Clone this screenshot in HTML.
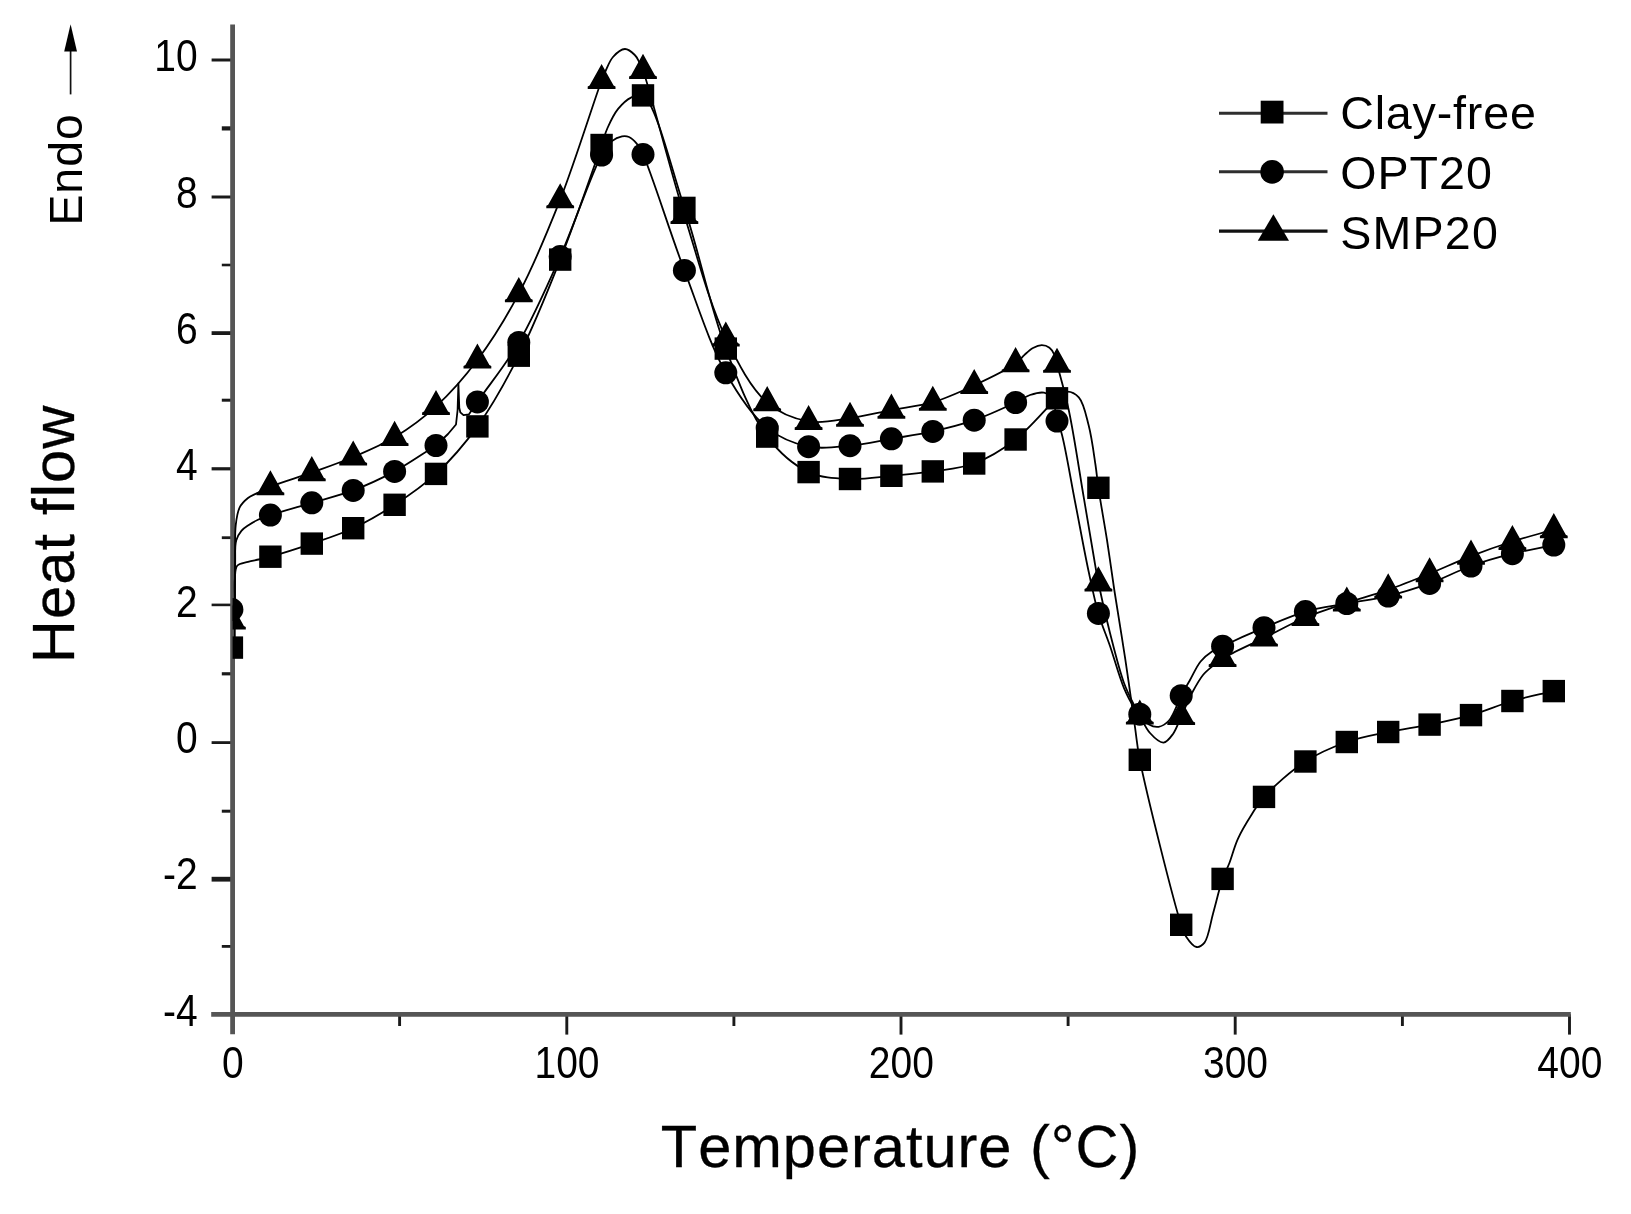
<!DOCTYPE html>
<html lang="en">
<head>
<meta charset="utf-8">
<title>Heat flow vs Temperature</title>
<style>
html,body{margin:0;padding:0;background:#fff;}
body{width:1631px;height:1214px;overflow:hidden;}
svg{display:block;filter:blur(0.6px);}
text{font-family:'Liberation Sans', Arial, Helvetica, sans-serif;fill:#000;font-kerning:none;}
.tick text{font-size:39px;}
.leg text{font-size:46.6px;}
.title{font-size:59.6px;stroke:#000;stroke-width:0.3;}
.curve{fill:none;stroke:#000;stroke-width:1.8;stroke-linejoin:round;stroke-linecap:butt;}
</style>
</head>
<body>
<svg width="1631" height="1214" viewBox="0 0 1631 1214">
<rect x="0" y="0" width="1631" height="1214" fill="#fff"/>
<defs><clipPath id="plot"><rect x="232.6" y="0" width="1400" height="1014.3"/></clipPath></defs>
<g stroke="#1a1a1a" stroke-width="2.9" fill="none">
<line x1="211.6" y1="60.0" x2="232.6" y2="60.0" stroke-width="3.0"/>
<line x1="221.8" y1="128.4" x2="232.6" y2="128.4" stroke-width="4.2"/>
<line x1="211.6" y1="197.0" x2="232.6" y2="197.0" stroke-width="3.0"/>
<line x1="221.8" y1="265.0" x2="232.6" y2="265.0" stroke-width="2.6"/>
<line x1="211.6" y1="333.1" x2="232.6" y2="333.1" stroke-width="3.8"/>
<line x1="221.8" y1="400.2" x2="232.6" y2="400.2" stroke-width="3.0"/>
<line x1="211.6" y1="468.8" x2="232.6" y2="468.8" stroke-width="3.2"/>
<line x1="221.8" y1="537.7" x2="232.6" y2="537.7" stroke-width="2.8"/>
<line x1="211.6" y1="604.9" x2="232.6" y2="604.9" stroke-width="2.6"/>
<line x1="221.8" y1="673.8" x2="232.6" y2="673.8" stroke-width="3.2"/>
<line x1="211.6" y1="742.6" x2="232.6" y2="742.6" stroke-width="2.8"/>
<line x1="221.8" y1="811.2" x2="232.6" y2="811.2" stroke-width="3.0"/>
<line x1="211.6" y1="879.2" x2="232.6" y2="879.2" stroke-width="4.8"/>
<line x1="221.8" y1="946.4" x2="232.6" y2="946.4" stroke-width="2.8"/>
<line x1="566.8" y1="1014.3" x2="566.8" y2="1034.6"/>
<line x1="901.0" y1="1014.3" x2="901.0" y2="1034.6"/>
<line x1="1235.2" y1="1014.3" x2="1235.2" y2="1034.6"/>
<line x1="1569.5" y1="1014.3" x2="1569.5" y2="1034.6"/>
<line x1="399.6" y1="1014.3" x2="399.6" y2="1026"/>
<line x1="733.9" y1="1014.3" x2="733.9" y2="1026"/>
<line x1="1068.1" y1="1014.3" x2="1068.1" y2="1026"/>
<line x1="1402.4" y1="1014.3" x2="1402.4" y2="1026"/>
</g>
<g stroke="#555555" stroke-width="4.8" fill="none" stroke-linecap="butt">
<line x1="232.6" y1="24.6" x2="232.6" y2="1034.2"/>
<line x1="211.2" y1="1014.3" x2="1570.8" y2="1014.3"/>
</g>
<g clip-path="url(#plot)">
<g class="curve">
<path d="M234.8 647.6C234.8 631.7 234.8 612.8 234.8 600.0C234.8 591.4 234.3 584.7 234.9 578.5C235.3 573.7 234.9 568.6 237.2 565.8C239.4 563.2 244.4 562.9 248.0 561.8C251.5 560.8 255.1 560.3 258.7 559.5C262.5 558.6 265.3 558.1 270.4 556.7C280.0 554.0 298.1 548.3 311.8 543.6C325.7 538.8 339.6 534.5 353.2 528.2C367.3 521.7 381.1 513.6 394.6 504.8C408.7 495.6 422.8 486.1 436.0 473.9C450.6 460.4 464.4 444.5 477.4 426.4C492.2 405.8 505.7 381.5 518.8 355.7C533.6 326.5 546.9 293.3 560.2 259.6C574.6 223.3 594.1 166.3 601.6 145.0C604.5 136.8 604.9 133.7 607.5 128.0C610.3 121.7 613.9 114.1 618.1 108.9C621.9 104.3 626.5 99.8 631.0 97.6C634.8 95.7 638.9 93.1 643.0 95.4C655.8 102.7 671.2 168.1 684.4 207.9C699.0 252.0 710.3 307.7 725.8 348.6C738.4 381.9 750.8 415.0 767.2 436.6C779.5 452.8 793.8 465.2 808.6 472.1C821.6 478.2 836.2 478.4 850.0 479.0C863.8 479.6 877.6 477.1 891.4 475.8C905.2 474.5 919.0 473.4 932.8 471.4C946.6 469.3 960.8 468.5 974.2 463.5C988.5 458.2 1002.4 449.6 1015.6 439.5C1030.2 428.3 1047.8 406.0 1057.0 398.3C1061.1 394.9 1063.0 391.9 1066.5 391.6C1070.2 391.3 1075.5 393.7 1078.8 397.4C1083.8 402.9 1086.0 415.2 1088.7 425.5C1091.8 437.4 1093.8 453.6 1095.5 465.0C1096.8 473.6 1097.1 478.7 1098.4 487.8C1100.4 501.7 1104.3 522.8 1107.0 540.0C1109.6 556.8 1111.6 572.0 1114.3 590.0C1117.5 611.1 1121.7 635.7 1125.2 658.6C1128.7 681.6 1132.4 709.1 1135.1 727.8C1136.9 740.5 1136.9 745.1 1139.8 759.8C1146.5 793.5 1173.6 901.9 1181.2 924.8C1183.3 931.0 1183.6 932.8 1186.0 936.4C1188.6 940.3 1193.1 946.5 1196.6 947.0C1199.3 947.4 1202.2 945.4 1204.5 942.6C1208.7 937.4 1210.3 923.1 1213.2 912.9C1216.3 902.0 1219.4 887.9 1222.6 878.9C1224.8 872.7 1226.9 869.3 1229.2 863.5C1232.0 856.3 1234.2 846.9 1237.9 838.8C1241.7 830.4 1247.3 821.4 1252.0 814.0C1256.0 807.7 1258.3 803.2 1264.0 796.9C1273.3 786.7 1290.9 770.8 1305.4 761.5C1318.6 752.9 1332.7 747.0 1346.8 742.0C1360.4 737.2 1374.4 734.9 1388.2 732.0C1402.0 729.1 1415.8 727.4 1429.6 724.6C1443.4 721.8 1457.3 719.0 1471.0 715.1C1484.9 711.1 1498.5 705.0 1512.4 701.0C1526.1 697.0 1540.0 694.4 1553.8 691.1"/>
<path d="M234.8 609.6C234.9 594.7 234.7 577.7 235.0 565.0C235.3 555.6 234.5 546.7 236.2 540.5C237.3 536.4 239.2 533.4 241.4 530.8C243.3 528.6 245.5 527.3 248.0 525.6C250.9 523.6 254.3 521.5 257.9 519.8C261.8 518.0 265.0 516.9 270.4 515.1C280.1 511.8 298.0 506.9 311.8 502.8C325.6 498.7 339.6 495.5 353.2 490.4C367.2 485.1 381.0 478.7 394.6 471.4C408.6 463.8 422.2 454.1 436.0 445.5L448.0 434.0L456.0 424.5L457.6 410.0L458.4 383.5L459.3 408.0L460.3 412.3L463.5 415.2L469.0 414.3L477.4 401.9C491.2 382.1 505.8 364.7 518.8 342.5C533.7 317.0 546.9 286.7 560.2 256.6C574.5 224.4 591.5 173.0 601.6 155.0C605.6 147.9 608.0 144.2 611.9 141.1C615.0 138.6 618.9 137.0 622.0 136.4C624.5 136.0 626.8 136.1 629.0 137.0C631.6 138.1 634.3 140.7 636.5 143.3C639.0 146.3 640.3 148.6 643.0 154.4C651.4 172.5 670.2 233.1 684.4 270.4C697.8 305.7 709.9 344.7 725.8 372.8C738.3 395.0 751.6 415.4 767.2 427.9C779.8 438.0 794.5 443.8 808.6 446.7C822.1 449.4 836.2 447.0 850.0 445.7C863.8 444.4 877.6 441.2 891.4 438.8C905.2 436.4 919.1 434.5 932.8 431.4C946.7 428.3 960.6 424.9 974.2 420.2C988.2 415.4 1005.4 407.3 1015.6 402.5C1021.7 399.6 1025.1 396.6 1030.0 395.0C1034.6 393.5 1040.1 391.8 1044.0 392.7C1047.4 393.5 1050.4 395.7 1052.5 399.0C1055.6 403.8 1055.2 414.9 1057.0 421.1C1058.3 425.7 1059.9 427.3 1061.5 433.0C1065.3 446.3 1070.5 478.5 1075.0 501.5C1079.6 524.8 1084.3 551.5 1088.7 571.8C1092.1 587.5 1094.6 600.5 1098.4 613.4C1101.8 625.0 1106.0 634.4 1110.0 646.0C1114.5 659.1 1119.3 677.2 1124.0 688.2C1127.2 695.7 1130.4 701.8 1133.5 706.5C1135.6 709.8 1137.5 711.5 1139.8 714.2C1142.5 717.4 1145.5 722.4 1149.0 724.5C1151.9 726.2 1155.4 727.3 1158.6 726.8C1162.1 726.3 1165.8 723.9 1169.0 720.5C1173.8 715.3 1177.4 703.0 1181.2 695.7C1184.3 689.8 1186.9 685.4 1190.0 680.0C1193.4 674.1 1196.5 666.5 1200.6 661.5C1204.0 657.3 1208.1 654.1 1212.0 651.5C1215.5 649.2 1217.9 648.4 1222.6 646.2C1231.8 641.8 1250.1 633.5 1264.0 627.7C1277.7 622.0 1291.4 615.7 1305.4 611.6C1319.0 607.7 1333.0 606.1 1346.8 603.5C1360.6 600.9 1374.5 599.3 1388.2 596.0C1402.1 592.6 1415.9 588.3 1429.6 583.4C1443.5 578.4 1457.1 571.0 1471.0 566.0C1484.7 561.1 1498.5 557.2 1512.4 553.7C1526.1 550.2 1540.0 547.9 1553.8 545.0"/>
<path d="M234.8 620.8C234.9 600.5 235.0 577.4 235.2 560.0C235.3 546.9 234.6 535.0 235.7 525.4C236.5 518.4 237.3 512.2 239.7 507.4C241.7 503.4 245.0 500.4 248.0 498.0C250.6 496.0 253.1 495.2 256.2 493.6C260.3 491.5 264.3 489.2 270.4 486.7C280.5 482.5 298.0 477.5 311.8 472.6C325.6 467.6 339.5 462.8 353.2 457.0C367.1 451.1 381.2 445.4 394.6 437.3C408.8 428.7 422.8 418.5 436.0 406.4C450.5 393.1 464.3 377.5 477.4 360.0C492.1 340.4 505.8 318.2 518.8 293.6C533.7 265.5 547.0 233.1 560.2 199.7C574.8 162.6 594.7 98.6 601.6 80.5C603.7 75.1 604.3 73.6 606.0 70.0C608.0 65.9 609.8 60.5 613.0 57.0C616.1 53.5 621.1 49.1 624.9 49.0C628.3 48.9 632.3 52.5 634.8 55.0C637.0 57.1 638.1 59.9 639.5 62.5C640.9 65.0 641.4 66.0 643.0 70.3C649.6 88.4 670.0 169.3 684.4 215.5C697.7 258.2 709.7 304.3 725.8 337.9C738.2 363.8 751.1 388.6 767.2 402.6C779.6 413.4 794.5 418.9 808.6 421.4C822.1 423.8 836.3 420.1 850.0 418.2C863.9 416.3 877.6 412.8 891.4 410.1C905.2 407.4 919.2 406.2 932.8 402.2C946.8 398.1 960.6 391.7 974.2 385.4C988.2 378.9 1007.1 369.8 1015.6 363.6C1020.0 360.4 1021.5 357.5 1024.5 354.8C1027.3 352.3 1030.0 349.6 1033.0 348.0C1035.8 346.5 1039.0 345.2 1041.8 345.2C1044.5 345.2 1047.4 346.2 1049.5 347.8C1051.7 349.4 1053.3 352.3 1054.5 355.0C1055.8 357.8 1055.9 359.9 1057.0 364.2C1059.5 373.7 1065.1 392.7 1068.9 410.7C1074.1 435.1 1079.3 471.3 1083.8 497.7C1087.5 519.6 1091.3 542.3 1094.0 558.0C1095.7 568.1 1096.4 573.1 1098.4 582.8C1101.2 596.6 1105.7 616.3 1110.0 633.0C1114.3 649.7 1119.2 669.9 1124.0 683.0C1127.3 692.0 1131.0 699.0 1134.0 705.0C1136.1 709.3 1137.5 711.9 1139.8 715.9C1142.7 721.0 1145.8 728.4 1150.0 733.0C1153.8 737.2 1159.5 742.8 1163.5 742.6C1167.0 742.4 1170.3 737.7 1173.0 734.0C1176.4 729.4 1178.3 722.8 1181.2 716.5C1184.6 709.2 1188.2 700.2 1192.0 693.0C1195.5 686.5 1199.0 679.9 1203.0 675.0C1206.4 670.9 1210.5 667.9 1214.0 665.0C1217.0 662.5 1218.5 661.0 1222.6 658.5C1231.1 653.2 1250.2 644.8 1264.0 638.0C1277.8 631.2 1291.4 623.4 1305.4 617.5C1319.0 611.7 1333.0 607.5 1346.8 602.9C1360.6 598.3 1374.5 594.6 1388.2 589.8C1402.1 584.9 1415.8 579.3 1429.6 573.7C1443.4 568.1 1457.1 561.5 1471.0 556.1C1484.7 550.8 1498.5 545.9 1512.4 541.5C1526.1 537.1 1540.0 533.6 1553.8 529.6"/>
</g>
<g fill="#000" stroke="none">
<rect x="220.7" y="636.4" width="22.4" height="22.4"/>
<rect x="259.2" y="545.5" width="22.4" height="22.4"/>
<rect x="300.6" y="532.4" width="22.4" height="22.4"/>
<rect x="342.0" y="517.0" width="22.4" height="22.4"/>
<rect x="383.4" y="493.6" width="22.4" height="22.4"/>
<rect x="424.8" y="462.7" width="22.4" height="22.4"/>
<rect x="466.2" y="415.2" width="22.4" height="22.4"/>
<rect x="507.6" y="344.5" width="22.4" height="22.4"/>
<rect x="549.0" y="248.4" width="22.4" height="22.4"/>
<rect x="590.4" y="133.8" width="22.4" height="22.4"/>
<rect x="631.8" y="84.2" width="22.4" height="22.4"/>
<rect x="673.2" y="196.7" width="22.4" height="22.4"/>
<rect x="714.6" y="337.4" width="22.4" height="22.4"/>
<rect x="756.0" y="425.4" width="22.4" height="22.4"/>
<rect x="797.4" y="460.9" width="22.4" height="22.4"/>
<rect x="838.8" y="467.8" width="22.4" height="22.4"/>
<rect x="880.2" y="464.6" width="22.4" height="22.4"/>
<rect x="921.6" y="460.2" width="22.4" height="22.4"/>
<rect x="963.0" y="452.3" width="22.4" height="22.4"/>
<rect x="1004.4" y="428.3" width="22.4" height="22.4"/>
<rect x="1045.8" y="387.1" width="22.4" height="22.4"/>
<rect x="1087.2" y="476.6" width="22.4" height="22.4"/>
<rect x="1128.6" y="748.6" width="22.4" height="22.4"/>
<rect x="1170.0" y="913.6" width="22.4" height="22.4"/>
<rect x="1211.4" y="867.7" width="22.4" height="22.4"/>
<rect x="1252.8" y="785.7" width="22.4" height="22.4"/>
<rect x="1294.2" y="750.3" width="22.4" height="22.4"/>
<rect x="1335.6" y="730.8" width="22.4" height="22.4"/>
<rect x="1377.0" y="720.8" width="22.4" height="22.4"/>
<rect x="1418.4" y="713.4" width="22.4" height="22.4"/>
<rect x="1459.8" y="703.9" width="22.4" height="22.4"/>
<rect x="1501.2" y="689.8" width="22.4" height="22.4"/>
<rect x="1542.6" y="679.9" width="22.4" height="22.4"/>
<circle cx="231.9" cy="609.6" r="11.5"/>
<circle cx="270.4" cy="515.1" r="11.5"/>
<circle cx="311.8" cy="502.8" r="11.5"/>
<circle cx="353.2" cy="490.4" r="11.5"/>
<circle cx="394.6" cy="471.4" r="11.5"/>
<circle cx="436.0" cy="445.5" r="11.5"/>
<circle cx="477.4" cy="401.9" r="11.5"/>
<circle cx="518.8" cy="342.5" r="11.5"/>
<circle cx="560.2" cy="256.6" r="11.5"/>
<circle cx="601.6" cy="155.0" r="11.5"/>
<circle cx="643.0" cy="154.4" r="11.5"/>
<circle cx="684.4" cy="270.4" r="11.5"/>
<circle cx="725.8" cy="372.8" r="11.5"/>
<circle cx="767.2" cy="427.9" r="11.5"/>
<circle cx="808.6" cy="446.7" r="11.5"/>
<circle cx="850.0" cy="445.7" r="11.5"/>
<circle cx="891.4" cy="438.8" r="11.5"/>
<circle cx="932.8" cy="431.4" r="11.5"/>
<circle cx="974.2" cy="420.2" r="11.5"/>
<circle cx="1015.6" cy="402.5" r="11.5"/>
<circle cx="1057.0" cy="421.1" r="11.5"/>
<circle cx="1098.4" cy="613.4" r="11.5"/>
<circle cx="1139.8" cy="714.2" r="11.5"/>
<circle cx="1181.2" cy="695.7" r="11.5"/>
<circle cx="1222.6" cy="646.2" r="11.5"/>
<circle cx="1264.0" cy="627.7" r="11.5"/>
<circle cx="1305.4" cy="611.6" r="11.5"/>
<circle cx="1346.8" cy="603.5" r="11.5"/>
<circle cx="1388.2" cy="596.0" r="11.5"/>
<circle cx="1429.6" cy="583.4" r="11.5"/>
<circle cx="1471.0" cy="566.0" r="11.5"/>
<circle cx="1512.4" cy="553.7" r="11.5"/>
<circle cx="1553.8" cy="545.0" r="11.5"/>
<path d="M231.9 604.3 L243.9 625.9 L245.8 626.9 L245.8 629.4 L218.0 629.4 L218.0 626.9 L219.9 625.9 Z"/>
<path d="M270.4 470.2 L282.4 491.8 L284.3 492.8 L284.3 495.3 L256.5 495.3 L256.5 492.8 L258.4 491.8 Z"/>
<path d="M311.8 456.1 L323.8 477.7 L325.7 478.7 L325.7 481.2 L297.9 481.2 L297.9 478.7 L299.8 477.7 Z"/>
<path d="M353.2 440.5 L365.2 462.1 L367.1 463.1 L367.1 465.6 L339.3 465.6 L339.3 463.1 L341.2 462.1 Z"/>
<path d="M394.6 420.8 L406.6 442.4 L408.5 443.4 L408.5 445.9 L380.7 445.9 L380.7 443.4 L382.6 442.4 Z"/>
<path d="M436.0 389.9 L448.0 411.5 L449.9 412.5 L449.9 415.0 L422.1 415.0 L422.1 412.5 L424.0 411.5 Z"/>
<path d="M477.4 343.5 L489.4 365.1 L491.3 366.1 L491.3 368.6 L463.5 368.6 L463.5 366.1 L465.4 365.1 Z"/>
<path d="M518.8 277.1 L530.8 298.7 L532.7 299.7 L532.7 302.2 L504.9 302.2 L504.9 299.7 L506.8 298.7 Z"/>
<path d="M560.2 183.2 L572.2 204.8 L574.1 205.8 L574.1 208.3 L546.3 208.3 L546.3 205.8 L548.2 204.8 Z"/>
<path d="M601.6 64.0 L613.6 85.6 L615.5 86.6 L615.5 89.1 L587.7 89.1 L587.7 86.6 L589.6 85.6 Z"/>
<path d="M643.0 53.8 L655.0 75.4 L656.9 76.4 L656.9 78.9 L629.1 78.9 L629.1 76.4 L631.0 75.4 Z"/>
<path d="M684.4 199.0 L696.4 220.6 L698.3 221.6 L698.3 224.1 L670.5 224.1 L670.5 221.6 L672.4 220.6 Z"/>
<path d="M725.8 321.4 L737.8 343.0 L739.7 344.0 L739.7 346.5 L711.9 346.5 L711.9 344.0 L713.8 343.0 Z"/>
<path d="M767.2 386.1 L779.2 407.7 L781.1 408.7 L781.1 411.2 L753.3 411.2 L753.3 408.7 L755.2 407.7 Z"/>
<path d="M808.6 404.9 L820.6 426.5 L822.5 427.5 L822.5 430.0 L794.7 430.0 L794.7 427.5 L796.6 426.5 Z"/>
<path d="M850.0 401.7 L862.0 423.3 L863.9 424.3 L863.9 426.8 L836.1 426.8 L836.1 424.3 L838.0 423.3 Z"/>
<path d="M891.4 393.6 L903.4 415.2 L905.3 416.2 L905.3 418.7 L877.5 418.7 L877.5 416.2 L879.4 415.2 Z"/>
<path d="M932.8 385.7 L944.8 407.3 L946.7 408.3 L946.7 410.8 L918.9 410.8 L918.9 408.3 L920.8 407.3 Z"/>
<path d="M974.2 368.9 L986.2 390.5 L988.1 391.5 L988.1 394.0 L960.3 394.0 L960.3 391.5 L962.2 390.5 Z"/>
<path d="M1015.6 347.1 L1027.6 368.7 L1029.5 369.7 L1029.5 372.2 L1001.7 372.2 L1001.7 369.7 L1003.6 368.7 Z"/>
<path d="M1057.0 347.7 L1069.0 369.3 L1070.9 370.3 L1070.9 372.8 L1043.1 372.8 L1043.1 370.3 L1045.0 369.3 Z"/>
<path d="M1098.4 566.3 L1110.4 587.9 L1112.3 588.9 L1112.3 591.4 L1084.5 591.4 L1084.5 588.9 L1086.4 587.9 Z"/>
<path d="M1139.8 699.4 L1151.8 721.0 L1153.7 722.0 L1153.7 724.5 L1125.9 724.5 L1125.9 722.0 L1127.8 721.0 Z"/>
<path d="M1181.2 700.0 L1193.2 721.6 L1195.1 722.6 L1195.1 725.1 L1167.3 725.1 L1167.3 722.6 L1169.2 721.6 Z"/>
<path d="M1222.6 642.0 L1234.6 663.6 L1236.5 664.6 L1236.5 667.1 L1208.7 667.1 L1208.7 664.6 L1210.6 663.6 Z"/>
<path d="M1264.0 621.5 L1276.0 643.1 L1277.9 644.1 L1277.9 646.6 L1250.1 646.6 L1250.1 644.1 L1252.0 643.1 Z"/>
<path d="M1305.4 601.0 L1317.4 622.6 L1319.3 623.6 L1319.3 626.1 L1291.5 626.1 L1291.5 623.6 L1293.4 622.6 Z"/>
<path d="M1346.8 586.4 L1358.8 608.0 L1360.7 609.0 L1360.7 611.5 L1332.9 611.5 L1332.9 609.0 L1334.8 608.0 Z"/>
<path d="M1388.2 573.3 L1400.2 594.9 L1402.1 595.9 L1402.1 598.4 L1374.3 598.4 L1374.3 595.9 L1376.2 594.9 Z"/>
<path d="M1429.6 557.2 L1441.6 578.8 L1443.5 579.8 L1443.5 582.3 L1415.7 582.3 L1415.7 579.8 L1417.6 578.8 Z"/>
<path d="M1471.0 539.6 L1483.0 561.2 L1484.9 562.2 L1484.9 564.7 L1457.1 564.7 L1457.1 562.2 L1459.0 561.2 Z"/>
<path d="M1512.4 525.0 L1524.4 546.6 L1526.3 547.6 L1526.3 550.1 L1498.5 550.1 L1498.5 547.6 L1500.4 546.6 Z"/>
<path d="M1553.8 513.1 L1565.8 534.7 L1567.7 535.7 L1567.7 538.2 L1539.9 538.2 L1539.9 535.7 L1541.8 534.7 Z"/>
</g>
</g>
<g class="tick">
<text transform="translate(197.6 71.1) scale(1 1.12)" text-anchor="end">10</text>
<text transform="translate(197.6 207.5) scale(1 1.12)" text-anchor="end">8</text>
<text transform="translate(197.6 343.9) scale(1 1.12)" text-anchor="end">6</text>
<text transform="translate(197.6 480.2) scale(1 1.12)" text-anchor="end">4</text>
<text transform="translate(197.6 616.6) scale(1 1.12)" text-anchor="end">2</text>
<text transform="translate(197.6 753.0) scale(1 1.12)" text-anchor="end">0</text>
<text transform="translate(197.6 889.4) scale(1 1.12)" text-anchor="end">-2</text>
<text transform="translate(197.6 1025.8) scale(1 1.12)" text-anchor="end">-4</text>
<text transform="translate(232.8 1078.2) scale(1 1.12)" text-anchor="middle">0</text>
<text transform="translate(567.0 1078.2) scale(1 1.12)" text-anchor="middle">100</text>
<text transform="translate(901.3 1078.2) scale(1 1.12)" text-anchor="middle">200</text>
<text transform="translate(1235.5 1078.2) scale(1 1.12)" text-anchor="middle">300</text>
<text transform="translate(1569.8 1078.2) scale(1 1.12)" text-anchor="middle">400</text>
</g>
<text class="title" x="660.8" y="1167.4" textLength="478.6" lengthAdjust="spacing">Temperature (°C)</text>
<text class="title" transform="translate(74 663.2) rotate(-90)" textLength="257.6" lengthAdjust="spacing">Heat flow</text>
<g class="leg">
<text transform="translate(82.4 225.6) rotate(-90)" style="font-size:46.4px" textLength="111.4" lengthAdjust="spacing">Endo</text>
<line x1="70.6" y1="94.4" x2="70.6" y2="50" stroke="#111" stroke-width="1.7"/>
<path d="M70.6 24.2 L77 51.6 L64.2 51.6 Z" fill="#000"/>
<g stroke="#2e2e2e" stroke-width="3.1">
<line x1="1219" y1="113.3" x2="1327.5" y2="113.3"/>
<line x1="1219" y1="171.8" x2="1327.5" y2="171.8"/>
<line x1="1219" y1="231.1" x2="1327.5" y2="231.1" stroke="#111"/>
</g>
<g fill="#000">
<rect x="1260.7" y="100.7" width="22.8" height="22.8"/>
<circle cx="1272.1" cy="171.9" r="11.8"/>
<path d="M1273.4 214.2 L1289 240.8 L1257.8 240.8 Z"/>
</g>
<text x="1340.2" y="128.6" textLength="195.6" lengthAdjust="spacing">Clay-free</text>
<text x="1340.2" y="188.9" textLength="151.6" lengthAdjust="spacing">OPT20</text>
<text x="1340.2" y="248.6" textLength="157.6" lengthAdjust="spacing">SMP20</text>
</g>
</svg>
</body>
</html>
